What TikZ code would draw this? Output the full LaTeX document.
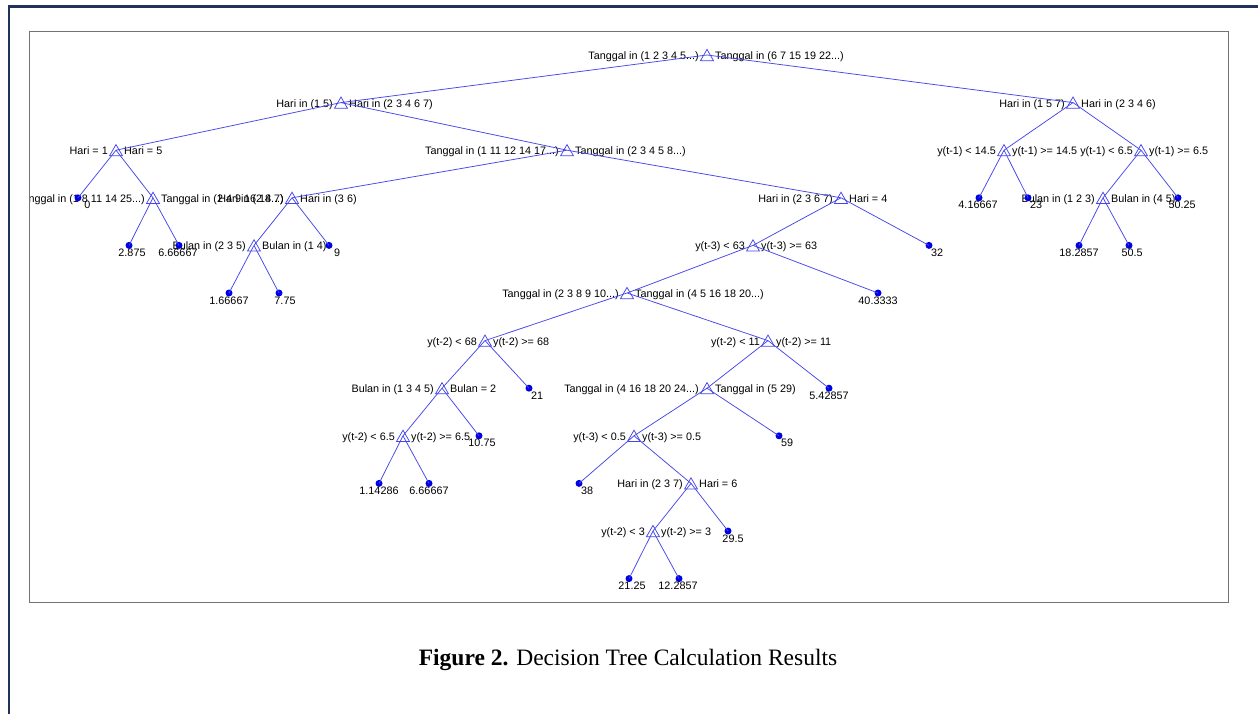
\documentclass[tikz,border=0pt]{standalone}
\usepackage{fontspec}
\setmainfont{Liberation Serif}
\newfontfamily\treefont{Liberation Sans}
\usetikzlibrary{shapes.geometric}
\definecolor{treeblue}{RGB}{70,70,235}
\definecolor{dotblue}{RGB}{0,0,230}
\definecolor{framenavy}{RGB}{30,50,90}
\definecolor{axgray}{RGB}{115,115,115}
\newcommand{\dnode}[5]{%
  \coordinate (#1) at (#2,#3);
  \node[tri] (#1-m) at (#2,#3+1.9) {};
  \node[llab] (#1-l) at (#2-8,#3+4.5) {#4};
  \node[rlab] (#1-r) at (#2+8,#3+4.5) {#5};}
\newcommand{\lnode}[5]{%
  \node[leafdot] (#1) at (#2,#3) {};
  \node[vlab] (#1-t) at (#5,#3+11) {#4};}
\begin{document}
\begin{tikzpicture}[x=1pt,y=-1pt,
  treeline/.style={draw=treeblue, line width=0.75pt},
  tri/.style={regular polygon, regular polygon sides=3, minimum size=15pt, inner sep=0pt, draw=treeblue, line width=0.75pt},
  leafdot/.style={circle, fill=dotblue, minimum size=7pt, inner sep=0pt},
  tfont/.style={font=\treefont\fontsize{10.8}{12}\selectfont, text=black, inner sep=0pt},
  llab/.style={tfont, anchor=base east},
  rlab/.style={tfont, anchor=base west},
  vlab/.style={tfont, anchor=base},
  axbox/.style={draw=axgray, line width=1.3pt},
  pageframe/.style={draw=framenavy, line width=2.6pt},
  captext/.style={font=\fontsize{23.5}{26}\selectfont, text=black, inner sep=0pt, anchor=base}
]
\useasboundingbox (0,0) rectangle (1258,714);
\fill[white] (0,0) rectangle (1258,714);
\draw[pageframe] (9,714) -- (9,6.5) -- (1258,6.5);

\begin{scope}
\clip (29.5,31.7) rectangle (1228.3,602.3);
% decision nodes
\dnode{root}{707}{55}{Tanggal in (1 2 3 4 5...)}{Tanggal in (6 7 15 19 22...)}
\dnode{A}{341}{102.6}{Hari in (1 5)}{Hari in (2 3 4 6 7)}
\dnode{B}{1073}{102.6}{Hari in (1 5 7)}{Hari in (2 3 4 6)}
\dnode{C}{116}{150.2}{Hari = 1}{Hari = 5}
\dnode{D}{567}{150.2}{Tanggal in (1 11 12 14 17...)}{Tanggal in (2 3 4 5 8...)}
\dnode{E}{1004}{150.2}{y(t-1) < 14.5}{y(t-1) >= 14.5}
\dnode{F}{1141}{150.2}{y(t-1) < 6.5}{y(t-1) >= 6.5}
\dnode{G}{153}{197.8}{Tanggal in (1 8 11 14 25...)}{Tanggal in (2 4 9 16 18...)}
\dnode{H}{292}{197.8}{Hari in (2 4 7)}{Hari in (3 6)}
\dnode{I}{841}{197.8}{Hari in (2 3 6 7)}{Hari = 4}
\dnode{J}{1103}{197.8}{Bulan in (1 2 3)}{Bulan in (4 5)}
\dnode{K}{254}{245.4}{Bulan in (2 3 5)}{Bulan in (1 4)}
\dnode{L}{753}{245.4}{y(t-3) < 63}{y(t-3) >= 63}
\dnode{M}{627}{293}{Tanggal in (2 3 8 9 10...)}{Tanggal in (4 5 16 18 20...)}
\dnode{N}{485}{340.6}{y(t-2) < 68}{y(t-2) >= 68}
\dnode{O}{768}{340.6}{y(t-2) < 11}{y(t-2) >= 11}
\dnode{P}{442}{388.2}{Bulan in (1 3 4 5)}{Bulan = 2}
\dnode{Q}{707}{388.2}{Tanggal in (4 16 18 20 24...)}{Tanggal in (5 29)}
\dnode{R}{403}{435.8}{y(t-2) < 6.5}{y(t-2) >= 6.5}
\dnode{S}{634}{435.8}{y(t-3) < 0.5}{y(t-3) >= 0.5}
\dnode{T}{691}{483.4}{Hari in (2 3 7)}{Hari = 6}
\dnode{U}{653}{531}{y(t-2) < 3}{y(t-2) >= 3}
% leaves
\lnode{lz}{78}{197.8}{0}{87.5}
\lnode{la}{979}{197.8}{4.16667}{978}
\lnode{lb}{1028}{197.8}{23}{1036}
\lnode{lc}{1178}{197.8}{50.25}{1182}
\lnode{ld}{129}{245.4}{2.875}{132}
\lnode{le}{179}{245.4}{6.66667}{178}
\lnode{lf}{329}{245.4}{9}{337}
\lnode{lg}{929}{245.4}{32}{937}
\lnode{lh}{1079}{245.4}{18.2857}{1079}
\lnode{li}{1129}{245.4}{50.5}{1132}
\lnode{lj}{229}{293}{1.66667}{229}
\lnode{lk}{279}{293}{7.75}{285}
\lnode{ll}{878}{293}{40.3333}{878}
\lnode{lm}{529}{388.2}{21}{537}
\lnode{ln}{829}{388.2}{5.42857}{829}
\lnode{lo}{479}{435.8}{10.75}{482}
\lnode{lp}{779}{435.8}{59}{787}
\lnode{lq}{379}{483.4}{1.14286}{379}
\lnode{lr}{429}{483.4}{6.66667}{429}
\lnode{ls}{579}{483.4}{38}{587}
\lnode{lt}{728}{531}{29.5}{733}
\lnode{lu}{629}{578.6}{21.25}{632}
\lnode{lv}{679}{578.6}{12.2857}{678}
% connectors
\draw[treeline] (root) -- (A) (root) -- (B)
  (A) -- (C) (A) -- (D) (B) -- (E) (B) -- (F)
  (C) -- (lz.center) (C) -- (G) (D) -- (H) (D) -- (I)
  (E) -- (la.center) (E) -- (lb.center) (F) -- (J) (F) -- (lc.center)
  (G) -- (ld.center) (G) -- (le.center) (H) -- (K) (H) -- (lf.center)
  (I) -- (L) (I) -- (lg.center) (J) -- (lh.center) (J) -- (li.center)
  (K) -- (lj.center) (K) -- (lk.center) (L) -- (M) (L) -- (ll.center)
  (M) -- (N) (M) -- (O) (N) -- (P) (N) -- (lm.center)
  (O) -- (Q) (O) -- (ln.center) (P) -- (R) (P) -- (lo.center)
  (Q) -- (S) (Q) -- (lp.center) (R) -- (lq.center) (R) -- (lr.center)
  (S) -- (ls.center) (S) -- (T) (T) -- (U) (T) -- (lt.center)
  (U) -- (lu.center) (U) -- (lv.center);
\end{scope}
\draw[axbox] (29.5,31.7) rectangle (1228.3,602.3);

\node[captext] (cap) at (628,665.5) {\textbf{Figure 2.} Decision Tree Calculation Results};
\end{tikzpicture}
\end{document}
